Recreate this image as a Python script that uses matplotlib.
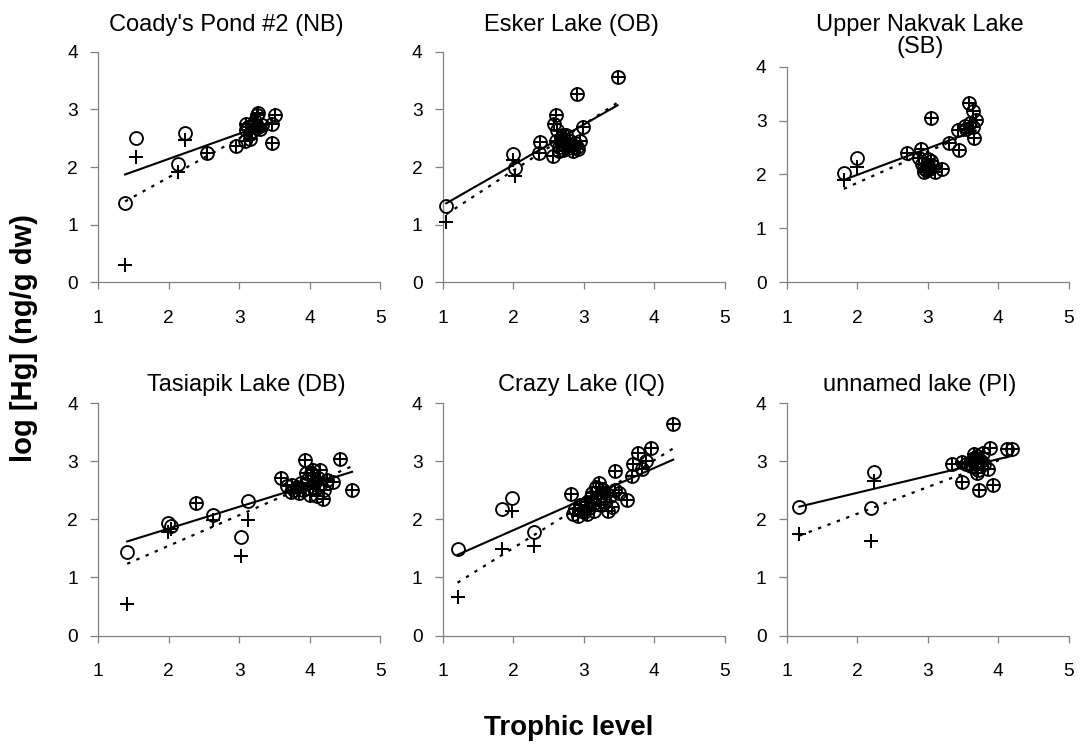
import matplotlib
matplotlib.use("Agg")
import matplotlib.pyplot as plt
import numpy as np

plt.rcParams['font.family'] = ['Liberation Sans', 'DejaVu Sans']

# ---------------- data ----------------
lakes = ["Coady's Pond #2 (NB)", "Esker Lake (OB)", "Upper Nakvak Lake\n(SB)",
         "Tasiapik Lake (DB)", "Crazy Lake (IQ)", "unnamed lake (PI)"]

# Coady's Pond #2
tl_nb = [1.38, 1.53, 2.13, 2.23, 2.54, 2.96, 3.08, 3.10, 3.12, 3.15, 3.18, 3.20,
         3.22, 3.25, 3.27, 3.30, 3.32, 3.15, 3.10, 3.26, 3.46, 3.51, 3.46]
thg_nb = [1.37, 2.50, 2.06, 2.59, 2.25, 2.37, 2.45, 2.75, 2.70, 2.49, 2.62, 2.72,
          2.80, 2.90, 2.70, 2.66, 2.72, 2.58, 2.65, 2.94, 2.75, 2.90, 2.41]
mehg_nb = [0.30, 2.17, 1.91, 2.46] + thg_nb[4:]

# Esker Lake
tl_ob = [1.05, 2.00, 2.02, 2.38, 2.37, 2.56, 2.61, 2.58, 2.62, 2.60, 2.65, 2.68,
         2.70, 2.72, 2.75, 2.78, 2.80, 2.82, 2.85, 2.88, 2.90, 2.92, 2.95, 2.65,
         2.70, 2.99, 2.90, 3.48]
thg_ob = [1.32, 2.23, 1.99, 2.43, 2.25, 2.19, 2.91, 2.75, 2.64, 2.45, 2.35, 2.50,
          2.30, 2.40, 2.55, 2.33, 2.45, 2.38, 2.28, 2.42, 2.35, 2.32, 2.45, 2.28,
          2.55, 2.69, 3.26, 3.56]
mehg_ob = [1.04, 2.13, 1.85] + thg_ob[3:]

# Upper Nakvak Lake
tl_sb = [1.81, 2.00, 2.70, 2.90, 3.04, 2.88, 2.92, 2.95, 2.98, 3.00, 3.02, 3.05,
         3.08, 3.10, 3.00, 2.95, 3.20, 3.30, 3.44, 3.43, 3.53, 3.59, 3.64, 3.68,
         3.64, 3.66, 3.60, 3.55]
thg_sb = [2.03, 2.30, 2.40, 2.47, 3.04, 2.30, 2.20, 2.12, 2.08, 2.18, 2.10, 2.25,
          2.15, 2.05, 2.28, 2.05, 2.11, 2.59, 2.45, 2.83, 2.90, 3.32, 3.17, 3.01,
          2.89, 2.67, 2.95, 2.85]
mehg_sb = [1.89, 2.13] + thg_sb[2:]

# Tasiapik Lake
tl_db = [1.41, 1.99, 2.03, 2.62, 3.02, 3.13, 2.39, 3.59, 3.93, 4.43, 4.60,
         3.68, 3.74, 3.75, 3.78, 3.82, 3.85, 3.88, 3.90, 3.95, 3.98, 4.00, 4.02,
         4.05, 4.08, 4.10, 4.12, 4.15, 4.19, 4.20, 4.25, 4.33, 4.05, 4.14]
thg_db = [1.43, 1.93, 1.88, 2.08, 1.69, 2.32, 2.29, 2.72, 3.03, 3.04, 2.50,
          2.58, 2.48, 2.60, 2.50, 2.55, 2.45, 2.62, 2.50, 2.80, 2.70, 2.42, 2.80,
          2.55, 2.65, 2.40, 2.72, 2.60, 2.36, 2.50, 2.68, 2.65, 2.85, 2.85]
mehg_db = [0.54, 1.79, 1.84, 1.99, 1.37, 1.99] + thg_db[6:]

# Crazy Lake
tl_iq = [1.21, 1.84, 1.99, 2.30, 2.82, 3.45, 3.62, 4.27, 3.95, 3.77, 3.70, 3.68,
         3.82, 3.89, 2.85, 2.88, 2.92, 2.95, 3.00, 3.05, 3.08, 3.10, 3.12, 3.15,
         3.18, 3.20, 3.22, 3.25, 3.28, 3.30, 3.32, 3.35, 3.38, 3.40, 3.15, 3.25,
         3.45, 3.50, 3.05]
thg_iq = [1.49, 2.18, 2.37, 1.78, 2.43, 2.83, 2.33, 3.65, 3.23, 3.14, 2.96, 2.75,
          2.87, 3.01, 2.10, 2.18, 2.05, 2.25, 2.12, 2.30, 2.20, 2.38, 2.45, 2.28,
          2.55, 2.35, 2.62, 2.42, 2.50, 2.30, 2.45, 2.15, 2.40, 2.22, 2.15, 2.25,
          2.50, 2.45, 2.10]
mehg_iq = [0.67, 1.49, 2.14, 1.55] + thg_iq[4:]

# unnamed lake
tl_pi = [1.18, 2.24, 2.19, 3.35, 3.48, 3.48, 3.73, 3.93, 3.88, 4.12, 4.19, 3.85,
         3.60, 3.65, 3.68, 3.70, 3.72, 3.75, 3.62, 3.78, 3.70, 3.66, 3.55, 3.80]
thg_pi = [2.22, 2.82, 2.19, 2.96, 2.99, 2.65, 2.50, 2.59, 3.23, 3.22, 3.22, 2.86,
          2.98, 3.05, 2.90, 3.10, 2.85, 3.00, 2.92, 3.15, 2.80, 3.12, 2.95, 2.95]
mehg_pi = [1.74, 2.66, 1.62] + thg_pi[3:]

tls = [tl_nb, tl_ob, tl_sb, tl_db, tl_iq, tl_pi]
thgs = [thg_nb, thg_ob, thg_sb, thg_db, thg_iq, thg_pi]
mehgs = [mehg_nb, mehg_ob, mehg_sb, mehg_db, mehg_iq, mehg_pi]

# regression lines (intercept, slope)
fit_thg = [(1.267, 0.437), (0.635, 0.700), (1.013, 0.490),
           (1.090, 0.376), (0.741, 0.536), (1.878, 0.290)]
fit_mehg = [(0.470, 0.676), (0.343, 0.797), (0.684, 0.580),
            (0.492, 0.527), (-0.005, 0.756), (1.177, 0.460)]

x_ticks = [1, 2, 3, 4, 5]
y_ticks = [0, 1, 2, 3, 4]

# ---------------- figure ----------------
W, H = 1080, 744
fig = plt.figure(figsize=(W / 100, H / 100), dpi=100)

# axes boxes in pixels: (left, top, width, height)
boxes = [(98.3, 51.7, 282, 230.6), (442.7, 51.7, 282, 230.6), (786.7, 66.7, 282, 215.6),
         (98.3, 403.3, 282, 232.2), (442.7, 403.3, 282, 232.2), (786.7, 403.3, 282, 232.2)]
title_pos = [(226.7, 30.7), (571, 30.7), (920, 30.7),
             (246, 391), (582, 391), (920, 391)]

gray = '#808080'
for i in range(6):
    l, t, w, h = boxes[i]
    ax = fig.add_axes([l / W, 1 - (t + h) / H, w / W, h / H])
    x = np.array(tls[i])
    yc = np.array(thgs[i])
    yp = np.array(mehgs[i])
    xs = np.array([x.min(), x.max()])
    a, b = fit_thg[i]
    ax.plot(xs, a + b * xs, color='black', lw=1.5, zorder=2)
    a, b = fit_mehg[i]
    ax.plot(xs, a + b * xs, color='black', lw=1.6, ls=(0, (1.5, 3.0)), zorder=2)
    ax.plot(x, yc, ls='none', marker='o', ms=9.3, mfc='none', mec='black', mew=1.35,
            zorder=3, clip_on=False)
    ax.plot(x, yp, ls='none', marker='+', ms=9.8, mec='black', mew=1.45,
            zorder=3, clip_on=False)
    ax.set_xlim(1, 5)
    ax.set_ylim(0, 4)
    ax.set_xticks(x_ticks)
    ax.set_yticks(y_ticks)
    ax.set_xticklabels([str(v) for v in x_ticks])
    ax.set_yticklabels([str(v) for v in y_ticks])
    for s in ['top', 'right']:
        ax.spines[s].set_visible(False)
    for s in ['left', 'bottom']:
        ax.spines[s].set_color(gray)
        ax.spines[s].set_linewidth(0.9)
    ax.tick_params(axis='y', direction='out', length=5.5, width=0.9, color=gray,
                   labelsize=13.8, pad=9)
    ax.tick_params(axis='x', direction='out', length=5.0, width=0.9, color=gray,
                   labelsize=13.8, pad=15)
    tx, ty = title_pos[i]
    fig.text(tx / W, 1 - ty / H, lakes[i].split('\n')[0], ha='center', va='baseline',
             fontsize=17)
    if '\n' in lakes[i]:
        fig.text(tx / W, 1 - (ty + 22.6) / H, lakes[i].split('\n')[1], ha='center',
                 va='baseline', fontsize=17)

fig.text(569 / W, 1 - 735 / H, 'Trophic level', ha='center', va='baseline',
         fontsize=20, fontweight='bold')
fig.text(24 / W, 1 - 338 / H, 'log [Hg] (ng/g dw)', ha='center', va='center',
         rotation=90, fontsize=21, fontweight='bold')

fig.savefig('out.png', dpi=100, facecolor='white')
